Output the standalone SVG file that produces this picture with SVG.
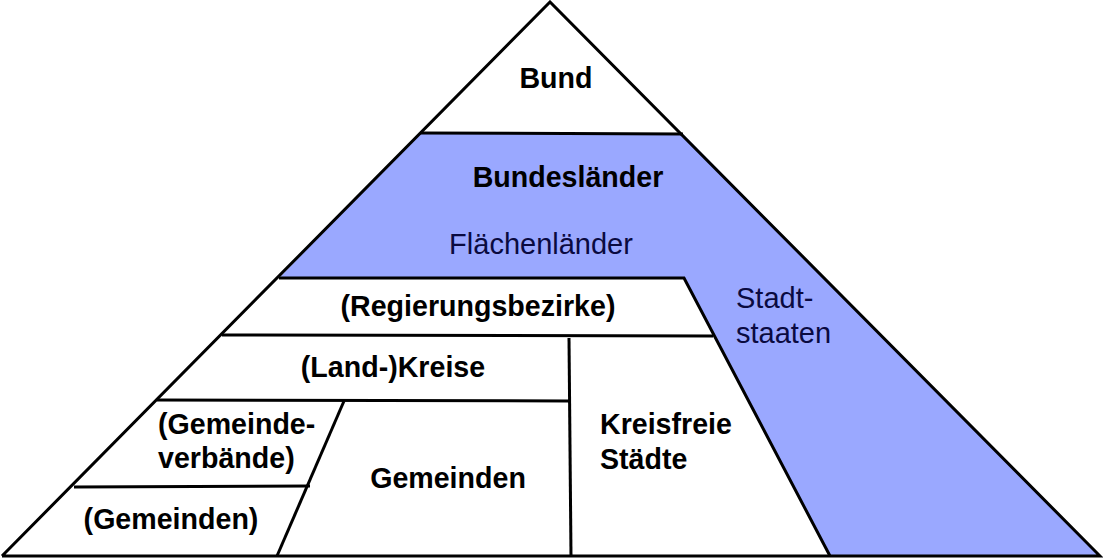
<svg xmlns="http://www.w3.org/2000/svg" width="1103" height="558" viewBox="0 0 1103 558">
<style>
.ln{fill:none;stroke:#000;stroke-width:3;stroke-linecap:butt;stroke-linejoin:miter}
.b{font-family:"Liberation Sans",Arial,sans-serif;font-weight:bold;font-size:28.6px;fill:#000}
.r{font-family:"Liberation Sans",Arial,sans-serif;font-size:29px;fill:#0a0a40}
.m{text-anchor:middle}
</style>
<rect width="1103" height="558" fill="#fff"/>
<g id="pyramid">
<polygon points="550,2 2,556 1100,556" fill="#fff"/>
<polygon points="420,133 683,134 1100,556 830,556 684,278 279,278" fill="#9aa8ff"/>
</g>
<g id="connectors">
<polyline class="ln" points="2,556 550,2 1100,556 2,556"/>
<line class="ln" x1="420" y1="133" x2="683" y2="134"/>
<polyline class="ln" points="279,278 684,278 830,556"/>
<line class="ln" x1="222" y1="335" x2="713" y2="336"/>
<line class="ln" x1="569" y1="338" x2="571" y2="556"/>
<line class="ln" x1="157" y1="400" x2="569" y2="401"/>
<line class="ln" x1="344" y1="401" x2="277" y2="556"/>
<line class="ln" x1="74" y1="487" x2="310" y2="486"/>
</g>
<g id="bund"><text class="b m" x="556" y="88">Bund</text></g>
<g id="bundeslaender"><text class="b m" x="568" y="187">Bundesländer</text></g>
<g id="flaechenlaender"><text class="r m" x="541" y="254">Flächenländer</text></g>
<g id="stadtstaaten"><text class="r" x="736" y="308">Stadt-</text><text class="r" x="736" y="343">staaten</text></g>
<g id="regierungsbezirke"><text class="b m" x="478" y="316">(Regierungsbezirke)</text></g>
<g id="kreise"><text class="b m" x="393" y="377">(Land-)Kreise</text></g>
<g id="gemeindeverbaende"><text class="b" x="158" y="434">(Gemeinde-</text><text class="b" x="158" y="468">verbände)</text></g>
<g id="gemeinden-verband"><text class="b m" x="171" y="529">(Gemeinden)</text></g>
<g id="gemeinden"><text class="b m" x="448" y="488">Gemeinden</text></g>
<g id="kreisfreie"><text class="b" x="600" y="434">Kreisfreie</text><text class="b" x="600" y="469">Städte</text></g>
</svg>
